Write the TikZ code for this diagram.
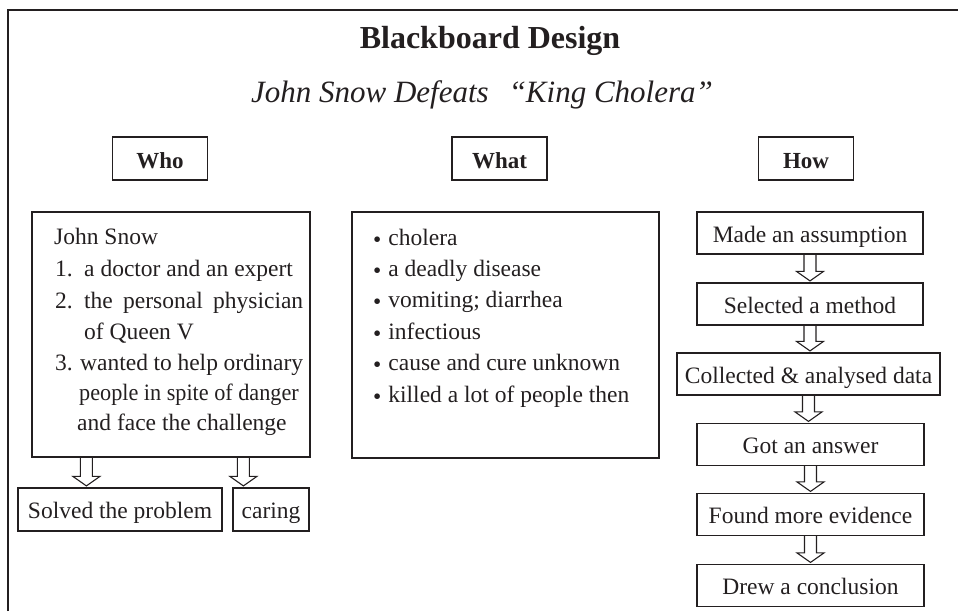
\documentclass[tikz,border=0pt]{standalone}
\usepackage{fontspec}
\setmainfont{Liberation Serif}
\usepackage{graphicx}
\usetikzlibrary{calc}
\definecolor{ink}{RGB}{35,31,32}
\newcommand\bodyfont{\fontsize{23.5}{28}\selectfont}
\newcommand\smallbullet{\raisebox{-0.1em}{\textbullet}\hspace{7pt}}
\tikzset{
  boxnode/.style={draw=ink, line width=1.2pt, inner sep=0pt, text=ink},
  labelbox/.style={boxnode, minimum width=95pt, minimum height=43pt, text height=19pt, text depth=0pt, font=\fontsize{23}{28}\selectfont\bfseries},
  stepbox/.style={boxnode, minimum height=42pt, text height=18pt, text depth=0pt, font=\bodyfont},
  smallbox/.style={boxnode, minimum height=43pt, text height=18pt, text depth=0pt, font=\bodyfont},
  txt/.style={anchor=base west, inner sep=0pt, text=ink, font=\bodyfont},
  hollow/.style={draw=ink, line width=1.1pt, line join=miter},
}
\newcommand\hollowarrow[2]{%
  \draw[hollow] let \p1=(#1), \p2=(#2) in
    (\x1-6pt,\y1) -- (\x1-6pt,\y2+11pt) -- (\x1-13.5pt,\y2+11pt) -- (\x1,\y2+1.5pt)
    -- (\x1+13.5pt,\y2+11pt) -- (\x1+6pt,\y2+11pt) -- (\x1+6pt,\y1);}
\begin{document}
\begin{tikzpicture}[x=1pt,y=-1pt]
\useasboundingbox (0,0) rectangle (958,611);
% outer frame
\draw[ink, line width=1.8pt] (8,611) -- (8,10) -- (958,10);
% titles
\node[anchor=base, inner sep=0pt, text=ink, font=\fontsize{32}{36}\selectfont\bfseries] (title) at (490,48) {Blackboard Design};
\node[anchor=base, inner sep=0pt, text=ink, font=\fontsize{31}{36}\selectfont\itshape] (subtitle) at (482,102) {John Snow Defeats\hspace{20pt}“King Cholera”};
% column labels
\node[labelbox] (wholbl) at (160,158.5) {Who};
\node[labelbox] (whatlbl) at (499.5,158.5) {What};
\node[labelbox] (howlbl) at (806,158.5) {How};
% Who
\node[boxnode, minimum width=278pt, minimum height=245pt] (who) at (171,334.5) {};
\node[txt] (w0) at (54,244) {John Snow};
\node[txt] (w1n) at (55,276) {1.};
\node[txt] (w1) at (84,276) {a doctor and an expert};
\node[txt] (w2n) at (55,308) {2.};
\node[txt] (w2) at (84,308) {\makebox[219pt][s]{the personal physician}};
\node[txt] (w2b) at (84,339) {of Queen V};
\node[txt] (w3n) at (55,370) {3.};
\node[txt] (w3) at (80,370) {\makebox[223pt][s]{wanted to help ordinary}};
\node[txt] (w3b) at (79,400) {\scalebox{0.945}[1]{people in spite of danger}};
\node[txt] (w3c) at (77,430) {and face the challenge};
\node[smallbox, minimum width=204pt] (solved) at (120,509.5) {Solved the problem};
\node[smallbox, minimum width=76pt] (caring) at (271,509.5) {caring};
\hollowarrow{$(who.south west)+(55,0)$}{solved.north}
\hollowarrow{$(who.south west)+(212,0)$}{caring.north}
% What
\node[boxnode, minimum width=307pt, minimum height=246pt] (what) at (505.5,335) {};
\node[txt] (b1) at (373,245) {\smallbullet cholera};
\node[txt] (b2) at (373,276) {\smallbullet a deadly disease};
\node[txt] (b3) at (373,307) {\smallbullet vomiting; diarrhea};
\node[txt] (b4) at (373,339) {\smallbullet infectious};
\node[txt] (b5) at (373,370) {\smallbullet cause and cure unknown};
\node[txt] (b6) at (373,402) {\smallbullet killed a lot of people then};
% How
\node[stepbox, minimum width=226pt] (h1) at (810,233) {Made an assumption};
\node[stepbox, minimum width=226pt] (h2) at (810,304) {Selected a method};
\node[stepbox, minimum width=263pt] (h3) at (808.5,374) {Collected \& analysed data};
\node[stepbox, minimum width=227pt] (h4) at (810.5,444.5) {Got an answer};
\node[stepbox, minimum width=227pt] (h5) at (810.5,514.5) {Found more evidence};
\node[stepbox, minimum width=227pt] (h6) at (810.5,585.5) {Drew a conclusion};
\hollowarrow{h1.south}{h2.north}
\hollowarrow{h2.south}{h3.north}
\hollowarrow{h3.south}{h4.north}
\hollowarrow{h4.south}{h5.north}
\hollowarrow{h5.south}{h6.north}
\end{tikzpicture}
\end{document}
